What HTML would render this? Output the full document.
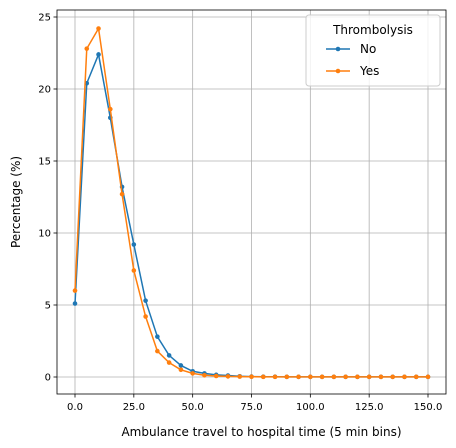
<!DOCTYPE html>
<html><head><meta charset="utf-8">
<style>body{margin:0;background:#fff}svg{display:block}text{font-family:"DejaVu Sans","Liberation Sans",sans-serif;fill:#000}</style>
</head><body>
<svg id="c" width="456" height="448"></svg>
<script>
const xValues=[0,5,10,15,20,25,30,35,40,45,50,55,60,65,70,75,80,85,90,95,100,105,110,115,120,125,130,135,140,145,150];
const noValues=[5.1,20.4,22.4,18.0,13.2,9.2,5.3,2.8,1.5,0.8,0.4,0.25,0.15,0.1,0.05,0.03,0.02,0.02,0.01,0.01,0.01,0.01,0.01,0.01,0.01,0.01,0.01,0.01,0.01,0.01,0.01];
const yesValues=[6.0,22.8,24.2,18.6,12.7,7.4,4.2,1.8,1.0,0.5,0.25,0.12,0.07,0.04,0.03,0.02,0.01,0.01,0.01,0.01,0.01,0.01,0.01,0.01,0.01,0.01,0.01,0.01,0.01,0.01,0.01];
const xTicks=[0,25,50,75,100,125,150];
const xTickLabels=["0.0","25.0","50.0","75.0","100.0","125.0","150.0"];
const yTicks=[0,5,10,15,20,25];
const yTickLabels=["0","5","10","15","20","25"];
const NS="http://www.w3.org/2000/svg",svg=document.getElementById('c');
const L=57,R=446,T=10,B=394;
const sx=v=>75+v*(353/150), sy=v=>377-v*14.4;
function el(t,a,p){const e=document.createElementNS(NS,t);for(const k in a)e.setAttribute(k,a[k]);(p||svg).appendChild(e);return e;}
xTicks.forEach((v,i)=>{
 const g=el('line',{x1:sx(v),x2:sx(v),y1:T,y2:B,stroke:'#b0b0b0','stroke-width':0.8});
 
 el('line',{x1:sx(v),x2:sx(v),y1:B,y2:B+3.5,stroke:'#000','stroke-width':0.8});
 const t=el('text',{x:sx(v),y:B+16,'text-anchor':'middle','font-size':10});t.textContent=xTickLabels[i];
 
});
yTicks.forEach((v,i)=>{
 const g=el('line',{x1:L,x2:R,y1:sy(v),y2:sy(v),stroke:'#b0b0b0','stroke-width':0.8});
 
 el('line',{x1:L-3.5,x2:L,y1:sy(v),y2:sy(v),stroke:'#000','stroke-width':0.8});
 const t=el('text',{x:L-6,y:sy(v)+3.5,'text-anchor':'end','font-size':10});t.textContent=yTickLabels[i];
 
});
function series(vals,color,name){
 const g=el('g',{});
 
 el('polyline',{points:vals.map((v,i)=>sx(xValues[i])+','+sy(v)).join(' '),fill:'none',stroke:color,'stroke-width':1.5},g);
 vals.forEach((v,i)=>{const c=el('circle',{cx:sx(xValues[i]),cy:sy(v),r:2.3,fill:color},g);
  });
}
series(noValues,'#1f77b4','series-no');
series(yesValues,'#ff7f0e','series-yes');
const f=el('rect',{x:L,y:T,width:R-L,height:B-T,fill:'none',stroke:'#000','stroke-width':0.8});

const xt=el('text',{x:(L+R)/2+10,y:436,'text-anchor':'middle','font-size':12});xt.textContent='Ambulance travel to hospital time (5 min bins)';

const yt=el('text',{x:0,y:0,'text-anchor':'middle','font-size':12,transform:'translate(20,'+(T+B)/2+') rotate(-90)'});yt.textContent='Percentage (%)';

const lg=el('g',{});
el('rect',{x:306,y:15,width:134,height:71,rx:3,fill:'#fff','fill-opacity':0.8,stroke:'#ccc'},lg);
const lt=el('text',{x:373,y:34,'text-anchor':'middle','font-size':12},lg);lt.textContent='Thrombolysis';
[['No','#1f77b4',49],['Yes','#ff7f0e',71]].forEach(([n,c,y])=>{
 const e=el('g',{},lg);
 el('line',{x1:326,x2:350,y1:y,y2:y,stroke:c,'stroke-width':1.5},e);
 el('circle',{cx:338,cy:y,r:2.3,fill:c},e);
 const t=el('text',{x:360,y:y+4,'font-size':12},e);t.textContent=n;
});
</script>
</body></html>
